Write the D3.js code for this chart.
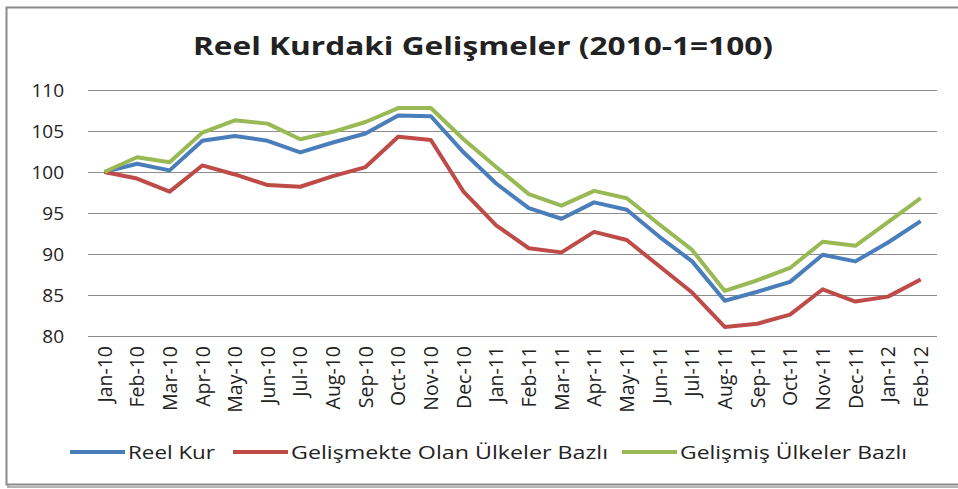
<!DOCTYPE html>
<html>
<head>
<meta charset="utf-8">
<script src="https://cdn.jsdelivr.net/npm/d3@7"></script>
<style>
  body { margin: 0; background: #fff; }
  text { font-family: "Open Sans", sans-serif; fill: #222; }
</style>
</head>
<body>
<svg id="chart" width="958" height="489"></svg>
<script>
// data
var months = ["Jan-10","Feb-10","Mar-10","Apr-10","May-10","Jun-10","Jul-10","Aug-10","Sep-10","Oct-10","Nov-10","Dec-10",
              "Jan-11","Feb-11","Mar-11","Apr-11","May-11","Jun-11","Jul-11","Aug-11","Sep-11","Oct-11","Nov-11","Dec-11",
              "Jan-12","Feb-12"];
var reelKur = [100, 101.0, 100.2, 103.8, 104.4, 103.8, 102.4, 103.6, 104.7, 106.9, 106.8, 102.4,
               98.6, 95.6, 94.3, 96.3, 95.4, 92.1, 89.1, 84.3, 85.4, 86.6, 89.9, 89.1, 91.4, 94.0];
var gelismekte = [100, 99.2, 97.6, 100.8, 99.7, 98.4, 98.2, 99.5, 100.6, 104.3, 103.9, 97.6,
                  93.5, 90.7, 90.2, 92.7, 91.7, 88.5, 85.3, 81.1, 81.5, 82.6, 85.7, 84.2, 84.8, 86.9];
var gelismis = [100, 101.8, 101.2, 104.8, 106.3, 105.9, 104.0, 104.9, 106.1, 107.8, 107.8, 104.0,
                100.6, 97.3, 95.9, 97.7, 96.8, 93.6, 90.5, 85.5, 86.8, 88.3, 91.5, 91.0, 93.9, 96.8];
var yTicks = [80, 85, 90, 95, 100, 105, 110];
var seriesNames = ["Reel Kur", "Gelişmekte Olan Ülkeler Bazlı", "Gelişmiş Ülkeler Bazlı"];
var colors = ["#4a7ebb", "#be4b48", "#98b954"];

var svg = d3.select("#chart");

// frame with shadow
svg.append("rect").attr("x", 8).attr("y", 9).attr("width", 960).attr("height", 478)
  .attr("fill", "none").attr("stroke", "#b5b5b5").attr("stroke-width", 2);
svg.append("rect").attr("x", 6.5).attr("y", 7.5).attr("width", 960).attr("height", 477)
  .attr("fill", "#fff").attr("stroke", "#8a8a8a").attr("stroke-width", 2);

var x = d3.scaleBand().domain(months).range([88, 937]);
var y = d3.scaleLinear().domain([80, 110]).range([336, 90]);

// gridlines + y labels
var yAxis = svg.append("g").attr("transform", "translate(88,0)")
  .call(d3.axisLeft(y).tickValues(yTicks).tickSize(-(937 - 88)).tickPadding(24));
yAxis.select(".domain").remove();
yAxis.selectAll(".tick line").attr("stroke", "#8c8c8c").attr("stroke-width", 1.2);
yAxis.selectAll(".tick text").style("font-size", "19px").style("font-family", "Open Sans, sans-serif").attr("fill", "#222");

// x labels, rotated
svg.append("g").selectAll("text").data(months).enter().append("text")
  .attr("transform", function(d){ return "translate(" + (x(d) + x.bandwidth() / 2) + ",346) rotate(-90)"; })
  .attr("text-anchor", "end")
  .attr("dy", "0.37em")
  .style("font-size", "19.5px")
  .text(function(d){ return d; });

// lines
var line = d3.line()
  .x(function(d, i){ return x(months[i]) + x.bandwidth() / 2; })
  .y(function(d){ return y(d); });

[reelKur, gelismekte, gelismis].forEach(function(s, k){
  svg.append("path").datum(s)
    .attr("d", line)
    .attr("fill", "none")
    .attr("stroke", colors[k])
    .attr("stroke-width", 4)
    .attr("stroke-linejoin", "round");
});

// title
svg.append("text").attr("x", 483).attr("y", 55).attr("text-anchor", "middle")
  .style("font-size", "25px").style("font-weight", "bold")
  .attr("textLength", 580).attr("lengthAdjust", "spacingAndGlyphs")
  .text("Reel Kurdaki Gelişmeler (2010-1=100)");

// legend
var legX = [70, 233, 622];
var legW = [87, 317, 227];
seriesNames.forEach(function(n, k){
  svg.append("line").attr("x1", legX[k]).attr("x2", legX[k] + 55)
    .attr("y1", 452).attr("y2", 452)
    .attr("stroke", colors[k]).attr("stroke-width", 4);
  svg.append("text").attr("x", legX[k] + 58).attr("y", 459)
    .style("font-size", "19px")
    .attr("textLength", legW[k]).attr("lengthAdjust", "spacingAndGlyphs")
    .text(n);
});
</script>
</body>
</html>
